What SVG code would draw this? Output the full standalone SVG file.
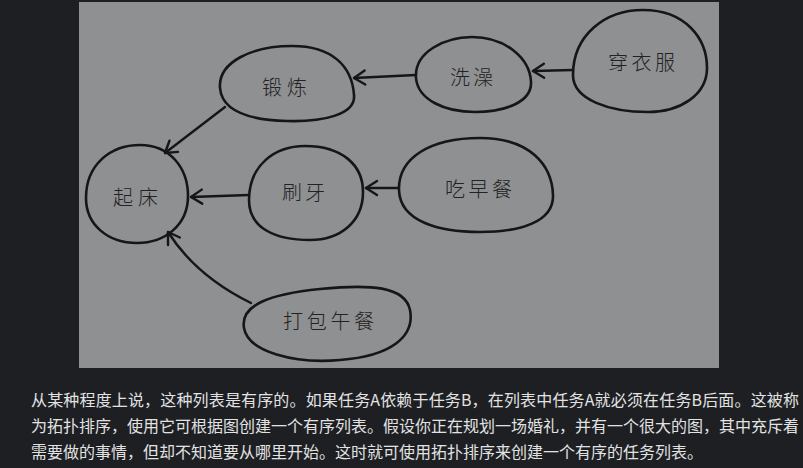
<svg xmlns="http://www.w3.org/2000/svg" width="803" height="468" viewBox="0 0 803 468">
<defs>
<style>
.blob{fill:none;stroke:#161616;stroke-width:2.6;stroke-linejoin:round}
.lbl{font-family:"Noto Sans CJK SC","Noto Sans CJK JP",sans-serif;font-weight:300;font-size:20px;fill:#222;}
.edge{fill:none;stroke:#161616;stroke-width:2.4;stroke-linecap:round}
.para{font-family:"Noto Sans CJK SC","Noto Sans CJK JP",sans-serif;font-size:16px;fill:#e2e2e2}
</style>
<marker id="arr" viewBox="-14 -9 17 18" refX="0" refY="0" markerWidth="17" markerHeight="18" markerUnits="userSpaceOnUse" orient="auto">
<path d="M -11,-7 L 0,0 L -11,7" fill="none" stroke="#161616" stroke-width="2.4" stroke-linecap="round" stroke-linejoin="round"/>
</marker>
</defs>
<rect x="0" y="0" width="803" height="468" fill="#1e1f22"/>
<rect x="79" y="2" width="640" height="366" fill="#8f9092"/>

<g id="connectors">
<path class="edge" d="M 573,70 L 533,71" marker-end="url(#arr)"/>
<path class="edge" d="M 416,75 L 354,78" marker-end="url(#arr)"/>
<path class="edge" d="M 225,107 L 165,153" marker-end="url(#arr)"/>
<path class="edge" d="M 249,195 L 191,197" marker-end="url(#arr)"/>
<path class="edge" d="M 398,188 L 366,188" marker-end="url(#arr)"/>
<path class="edge" d="M 251,303 Q 196,276 168,232" marker-end="url(#arr)"/>
</g>

<g id="node-qichuang">
<path class="blob" d="M 86,198 C 86,165 110,145 140,145 C 170,145 188,168 188,196 C 188,225 165,243 137,243 C 108,243 86,225 86,198 Z"/>
<text class="lbl" x="113" y="205" letter-spacing="5">起床</text>
</g>
<g id="node-duanlian">
<path class="blob" d="M 220,88 C 218,62 252,46 292,46 C 332,46 352,66 354,95 C 356,115 322,122 287,121 C 250,120 222,112 220,88 Z"/>
<text class="lbl" x="262" y="95" letter-spacing="5">锻炼</text>
</g>
<g id="node-xizao">
<path class="blob" d="M 416,78 C 414,52 445,37 472,37 C 505,37 530,58 531,82 C 532,102 505,112 475,112 C 445,112 418,100 416,78 Z"/>
<text class="lbl" x="450" y="85" letter-spacing="3">洗澡</text>
</g>
<g id="node-chuanyifu">
<path class="blob" d="M 573,75 C 573,35 605,10 643,10 C 685,10 707,38 707,68 C 707,95 680,112 648,112 C 610,112 573,100 573,75 Z"/>
<text class="lbl" x="608" y="70" letter-spacing="3.5">穿衣服</text>
</g>
<g id="node-shuaya">
<path class="blob" d="M 249,200 C 249,165 275,146 305,146 C 342,146 363,165 363,192 C 363,222 340,240 310,240 C 275,240 249,228 249,200 Z"/>
<text class="lbl" x="282" y="200" letter-spacing="3">刷牙</text>
</g>
<g id="node-chizaocan">
<path class="blob" d="M 399,190 C 398,158 430,138 480,138 C 530,138 552,165 553,195 C 554,222 520,232 480,232 C 440,232 400,222 399,190 Z"/>
<text class="lbl" x="445" y="197" letter-spacing="3.5">吃早餐</text>
</g>
<g id="node-dabaowucan">
<path class="blob" d="M 244,328 C 240,305 270,294 320,289 C 370,284 405,286 410,310 C 415,336 392,356 340,360 C 295,364 248,352 244,328 Z"/>
<text class="lbl" x="283" y="329" letter-spacing="3.7">打包午餐</text>
</g>

<text class="para" x="31" y="406" textLength="768" lengthAdjust="spacing">从某种程度上说，这种列表是有序的。如果任务A依赖于任务B，在列表中任务A就必须在任务B后面。这被称</text>
<text class="para" x="31" y="432" textLength="768" lengthAdjust="spacing">为拓扑排序，使用它可根据图创建一个有序列表。假设你正在规划一场婚礼，并有一个很大的图，其中充斥着</text>
<text class="para" x="31" y="458">需要做的事情，但却不知道要从哪里开始。这时就可使用拓扑排序来创建一个有序的任务列表。</text>
</svg>
